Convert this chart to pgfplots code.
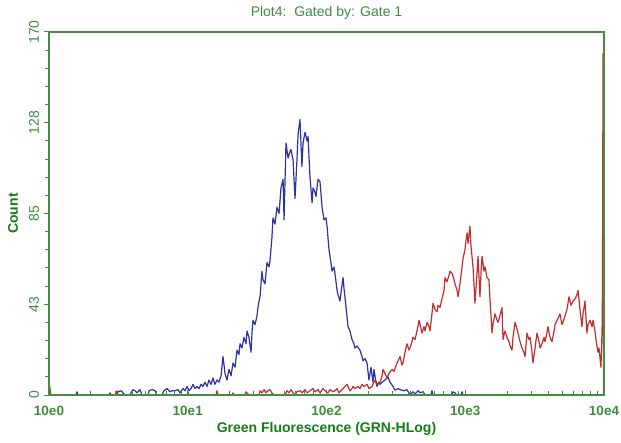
\documentclass[border=0pt]{standalone}
\usepackage{fontspec}
\setmainfont{Liberation Sans}
\usepackage{pgfplots}
\usepackage{pgfplotstable}
\pgfplotsset{compat=1.18}
\definecolor{axgreen}{RGB}{70,140,70}
\definecolor{txtgreen}{RGB}{60,140,60}
\definecolor{lblgreen}{RGB}{20,125,20}
\definecolor{bluecurve}{RGB}{45,50,165}
\definecolor{redcurve}{RGB}{195,45,45}

% Blue histogram: log10(fluorescence), count
\pgfplotstableread{
lx count
0.079 0
0.195 0
0.202 1.5
0.209 0
0.432 0
0.440 1
0.447 0
0.490 0
0.497 1.5
0.519 2
0.533 1
0.548 0
0.584 0
0.591 1
0.605 2.5
0.620 2
0.634 1
0.656 2.5
0.670 0
0.714 0
0.721 2
0.742 2.5
0.764 2
0.778 0
0.814 0
0.829 2
0.851 3
0.872 1.5
0.887 2
0.908 2
0.930 2.5
0.944 1
0.966 3
0.980 2
0.995 4
1.009 2
1.023 3
1.038 5
1.052 3
1.067 4
1.081 3
1.096 5
1.110 4
1.124 6
1.139 4
1.153 7
1.168 5
1.182 8
1.196 5
1.211 7
1.225 6
1.240 9
1.254 18
1.269 10
1.283 7
1.297 12
1.312 9
1.326 15
1.341 13
1.355 21
1.369 19
1.377 24
1.391 22
1.405 27
1.420 24
1.427 30
1.441 27
1.456 20
1.463 29
1.470 35
1.485 33
1.499 37
1.506 41
1.514 44
1.521 46
1.535 58
1.542 54
1.557 52
1.571 62
1.586 60
1.593 63
1.607 74
1.614 83
1.629 80
1.643 88
1.658 85
1.672 97
1.687 101
1.694 82
1.708 118
1.723 111
1.737 114
1.744 115
1.759 110
1.773 92
1.787 110
1.795 122
1.809 129
1.823 107
1.831 118
1.845 123
1.860 119
1.867 121
1.881 102
1.896 90
1.903 97
1.917 95
1.924 93
1.939 101
1.953 100
1.968 88
1.982 82
1.996 83
2.004 79
2.018 68
2.032 62
2.040 58
2.054 60
2.061 57
2.076 49
2.083 47
2.097 44
2.105 48
2.119 55
2.126 50
2.141 41
2.155 32
2.169 30
2.184 26
2.198 24
2.205 22
2.220 23
2.241 21
2.256 18
2.263 16
2.278 17
2.292 15
2.306 7
2.321 13
2.335 6
2.342 12
2.357 6
2.364 4
2.378 6
2.386 5
2.400 6
2.422 7
2.443 8.5
2.458 6
2.472 4.7
2.494 2.3
2.515 3
2.530 2.5
2.559 2
2.580 2.5
2.602 0
2.623 1.5
2.638 0.5
2.660 2
2.674 1
2.696 1.5
2.710 0
2.753 0
2.760 2
2.768 0
2.905 0
2.912 1.5
2.926 1
2.941 0
2.969 0
2.977 1.5
2.984 0
3.100 0
}\bluedata

% Red histogram: log10(fluorescence), count
\pgfplotstableread{
lx count
0.006 4
0.012 0
0.483 0
0.490 2
0.497 0
0.995 0
1.002 1.5
1.009 0
1.204 0
1.211 2
1.218 0
1.319 0
1.326 1
1.333 0
1.413 0
1.420 1.5
1.434 0.5
1.441 0
1.514 0
1.521 2
1.535 1
1.550 2.5
1.564 1
1.578 2
1.593 2.5
1.607 1
1.622 0
1.701 0
1.715 2
1.730 1
1.744 2.5
1.759 1
1.773 0
1.787 1.5
1.809 2
1.823 1
1.845 2.5
1.860 1
1.881 2
1.903 3
1.917 1.5
1.939 2.5
1.953 1
1.975 3
1.989 2
2.011 1
2.025 2.5
2.047 1.5
2.061 2
2.076 3
2.090 1
2.105 2
2.119 3
2.133 4
2.148 5
2.162 3
2.169 2
2.184 3
2.191 4
2.205 3
2.227 4
2.241 3
2.256 5
2.270 4
2.292 5
2.306 3
2.328 4
2.342 6
2.350 7
2.364 5
2.386 6
2.400 9
2.407 12
2.422 10
2.436 8
2.450 10
2.472 12
2.486 11
2.508 15
2.523 17
2.530 18
2.544 14
2.551 15
2.566 20
2.580 24
2.595 21
2.602 22
2.616 25
2.623 27
2.638 26
2.652 30
2.659 32
2.667 35
2.681 31
2.688 29
2.703 32
2.710 30
2.724 34
2.739 32
2.746 30
2.760 38
2.768 43
2.782 40
2.796 39
2.804 42
2.818 41
2.832 45
2.847 49
2.854 55
2.868 53
2.883 56
2.890 58
2.905 57
2.919 54
2.926 52
2.941 49
2.948 46
2.962 52
2.977 60
2.984 64
2.998 68
3.005 72
3.013 76
3.020 71
3.034 79
3.041 70
3.056 60
3.063 52
3.070 43
3.077 50
3.085 57
3.092 65
3.106 46
3.114 58
3.121 65
3.135 58
3.142 60
3.157 55
3.171 54
3.178 45
3.193 29
3.200 33
3.214 38
3.229 35
3.236 34
3.250 37
3.265 41
3.272 26
3.286 30
3.301 27
3.315 25
3.323 23
3.337 21
3.344 27
3.359 34
3.373 31
3.380 29
3.395 25
3.409 22
3.423 20
3.431 18
3.445 29
3.459 26
3.467 27
3.481 20
3.488 15
3.503 22
3.517 29
3.532 25
3.539 22
3.553 24
3.568 27
3.575 25
3.589 29
3.596 32
3.611 27
3.625 25
3.640 30
3.647 33
3.661 35
3.676 37
3.683 38
3.697 33
3.704 34
3.719 37
3.733 40
3.748 46
3.762 42
3.777 44
3.791 45
3.805 47
3.813 49
3.827 40
3.841 32
3.849 38
3.863 44
3.877 29
3.885 33
3.899 35
3.914 32
3.921 35
3.935 30
3.942 26
3.957 20
3.964 22
3.978 13
3.986 30
3.989 50
3.993 160
3.997 0
}\reddata

\begin{document}
\begin{tikzpicture}
\useasboundingbox (0,0) rectangle (621pt,442pt);
\begin{axis}[
  at={(49pt,47pt)}, anchor=south west,
  scale only axis, width=555pt, height=363pt,
  xmin=0, xmax=4, ymin=0, ymax=170,
  axis on top,
  axis line style={axgreen, line width=1.3pt},
  every tick/.style={axgreen, line width=1pt},
  xtick={0,1,2,3,4},
  xticklabels={10e0,10e1,10e2,10e3,10e4},
  minor xtick={0.301,0.477,0.602,0.699,0.778,0.845,0.903,0.954,
               1.301,1.477,1.602,1.699,1.778,1.845,1.903,1.954,
               2.301,2.477,2.602,2.699,2.778,2.845,2.903,2.954,
               3.301,3.477,3.602,3.699,3.778,3.845,3.903,3.954},
  ytick={0,42.5,85,127.5,170},
  yticklabels={0,43,85,128,170},
  minor y tick num=4,
  xtick align=inside, ytick align=outside,
  xtick pos=bottom, ytick pos=left,
  major tick length=5pt, minor tick length=4pt,
  /pgf/number format/assume math mode=true,
  xticklabel style={font=\fontsize{13.5}{15}\selectfont\bfseries, text=txtgreen, anchor=center, yshift=-16pt},
  yticklabel style={font=\fontsize{14}{16}\selectfont, text=txtgreen, anchor=center, xshift=-10pt, rotate=90},
  every axis title shift=0pt,
  title={Plot4:\ \ Gated by: Gate 1},
  title style={at={(axis description cs:0.5,1.0523)}, anchor=center, font=\fontsize{14}{16}\selectfont, text=txtgreen},
  xlabel={Green Fluorescence (GRN-HLog)},
  xlabel style={at={(axis description cs:0.5,-0.0923)}, anchor=center, font=\fontsize{14}{16}\selectfont\bfseries, text=lblgreen},
  ylabel={Count},
  ylabel style={at={(axis description cs:-0.0649,0.5)}, anchor=center, rotate=0, font=\fontsize{14}{16}\selectfont\bfseries, text=lblgreen},
]
\addplot[bluecurve, line width=1.2pt, line join=round] table[x=lx, y=count] {\bluedata};
\addplot[redcurve, line width=1.2pt, line join=round] table[x=lx, y=count] {\reddata};
\end{axis}
\end{tikzpicture}
\end{document}
